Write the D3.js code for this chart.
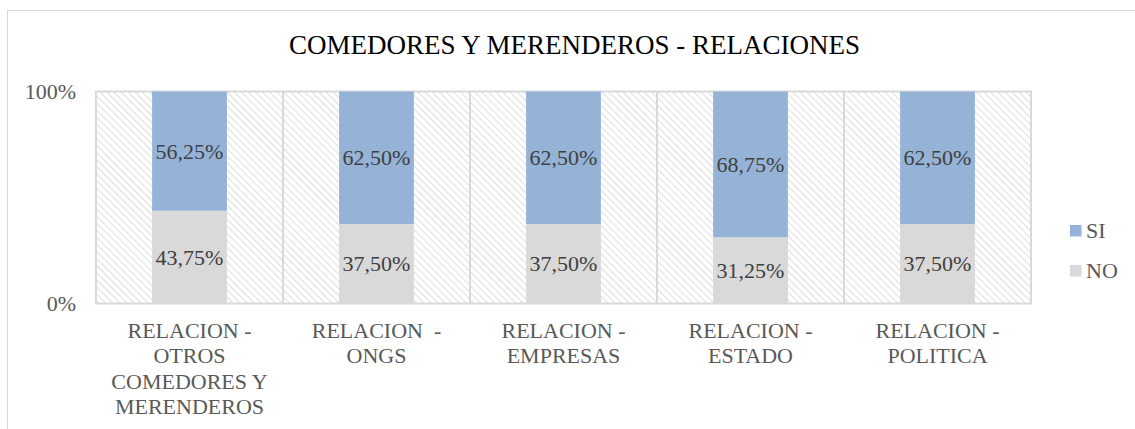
<!DOCTYPE html>
<html>
<head>
<meta charset="utf-8">
<script src="https://cdn.jsdelivr.net/npm/d3@7"></script>
<style>
  html, body { margin: 0; padding: 0; background: #fff; }
  svg { display: block; }
</style>
</head>
<body>
<svg id="chart" width="1135" height="429"></svg>
<script>
// Categories (each label split into display lines)
const categories = [
  ["RELACION -", "OTROS", "COMEDORES Y", "MERENDEROS"],
  ["RELACION  -", "ONGS"],
  ["RELACION -", "EMPRESAS"],
  ["RELACION -", "ESTADO"],
  ["RELACION -", "POLITICA"]
];
const siValues = [56.25, 62.50, 62.50, 68.75, 62.50];
const noValues = [43.75, 37.50, 37.50, 31.25, 37.50];
const seriesNames = ["SI", "NO"];
const yTickLabels = ["0%", "100%"];
const chartTitle = "COMEDORES Y MERENDEROS - RELACIONES";

const colors = { SI: "#95b3d7", NO: "#d9d9d9" };
const serif = "'Liberation Serif', 'Times New Roman', Times, 'DejaVu Serif', serif";

const svg = d3.select("#chart").attr("font-family", serif);
const W = 1135, H = 429;
const plot = { left: 96, right: 1031, top: 91.5, bottom: 303.5 };

// Outer chart frame
svg.append("rect")
  .attr("x", 7.5).attr("y", 10.5)
  .attr("width", W + 20).attr("height", H + 20)
  .attr("fill", "#fff").attr("stroke", "#d9d9d9").attr("stroke-width", 1);

// Diagonal hatch for plot background
const defs = svg.append("defs");
const pat = defs.append("pattern")
  .attr("id", "hatch")
  .attr("patternUnits", "userSpaceOnUse")
  .attr("width", 5).attr("height", 5)
  .attr("patternTransform", "rotate(-45)");
pat.append("rect").attr("width", 5).attr("height", 5).attr("fill", "#fff");
pat.append("line")
  .attr("x1", 0).attr("y1", 0).attr("x2", 0).attr("y2", 5)
  .attr("stroke", "#d6d6d6").attr("stroke-width", 1.6);

const idx = d3.range(categories.length);
const x = d3.scaleBand().domain(idx).range([plot.left, plot.right]).paddingInner(0).paddingOuter(0);
const y = d3.scaleLinear().domain([0, 100]).range([plot.bottom, plot.top]);

svg.append("rect")
  .attr("x", plot.left).attr("y", plot.top)
  .attr("width", plot.right - plot.left).attr("height", plot.bottom - plot.top)
  .attr("fill", "url(#hatch)");

// Category separators
svg.append("g").selectAll("line")
  .data(d3.range(categories.length + 1))
  .join("line")
  .attr("x1", i => i < categories.length ? x(i) : plot.right)
  .attr("x2", i => i < categories.length ? x(i) : plot.right)
  .attr("y1", plot.top).attr("y2", plot.bottom)
  .attr("stroke", "#d9d9d9").attr("stroke-width", 2);
svg.append("line")
  .attr("x1", plot.left - 1).attr("x2", plot.right + 1)
  .attr("y1", plot.top).attr("y2", plot.top)
  .attr("stroke", "#d9d9d9").attr("stroke-width", 2);

// Stacked bars
const barW = x.bandwidth() * 0.4;
const stackData = idx.map(i => ({ i, NO: noValues[i], SI: siValues[i] }));
const stack = d3.stack().keys(["NO", "SI"])(stackData);

const fmt = v => v.toFixed(2).replace(".", ",") + "%";

stack.forEach(layer => {
  const key = layer.key;
  const g = svg.append("g");
  g.selectAll("rect").data(layer).join("rect")
    .attr("x", d => x(d.data.i) + (x.bandwidth() - barW) / 2)
    .attr("width", barW)
    .attr("y", d => y(d[1]))
    .attr("height", d => y(d[0]) - y(d[1]))
    .attr("fill", colors[key]);
  g.selectAll("text").data(layer).join("text")
    .attr("x", d => x(d.data.i) + x.bandwidth() / 2)
    .attr("y", d => (y(d[0]) + y(d[1])) / 2)
    .attr("dy", "0.34em")
    .attr("text-anchor", "middle")
    .attr("font-size", 22)
    .attr("fill", "#404040")
    .text(d => fmt(d.data[key]));
});

// Baseline
svg.append("line")
  .attr("x1", plot.left - 1).attr("x2", plot.right + 1)
  .attr("y1", plot.bottom).attr("y2", plot.bottom)
  .attr("stroke", "#d9d9d9").attr("stroke-width", 2);

// Y axis labels
svg.append("g").selectAll("text")
  .data(yTickLabels)
  .join("text")
  .attr("x", 76)
  .attr("y", (d, i) => y(i * 100))
  .attr("dy", "0.34em")
  .attr("text-anchor", "end")
  .attr("font-size", 22)
  .attr("fill", "#595959")
  .text(d => d);

// Category labels
const catG = svg.append("g");
categories.forEach((lines, i) => {
  const cx = x(i) + x.bandwidth() / 2;
  const t = catG.append("text")
    .attr("x", cx)
    .attr("y", 337.5)
    .attr("text-anchor", "middle")
    .attr("font-size", 22)
    .attr("fill", "#595959")
    .style("white-space", "pre");
  lines.forEach((ln, k) => {
    t.append("tspan")
      .attr("x", cx)
      .attr("dy", k === 0 ? 0 : 25.6)
      .text(ln);
  });
});

// Title
svg.append("text")
  .attr("x", 574.5).attr("y", 54)
  .attr("text-anchor", "middle")
  .attr("font-size", 27)
  .attr("fill", "#000")
  .text(chartTitle);

// Legend
const legend = svg.append("g");
seriesNames.forEach((name, k) => {
  const ly = 230.5 + k * 40;
  legend.append("rect")
    .attr("x", 1070).attr("y", ly - 5.5)
    .attr("width", 11.5).attr("height", 11.5)
    .attr("fill", colors[name]);
  legend.append("text")
    .attr("x", 1086).attr("y", ly)
    .attr("dy", "0.34em")
    .attr("font-size", 22)
    .attr("fill", "#595959")
    .text(name);
});
</script>
</body>
</html>
